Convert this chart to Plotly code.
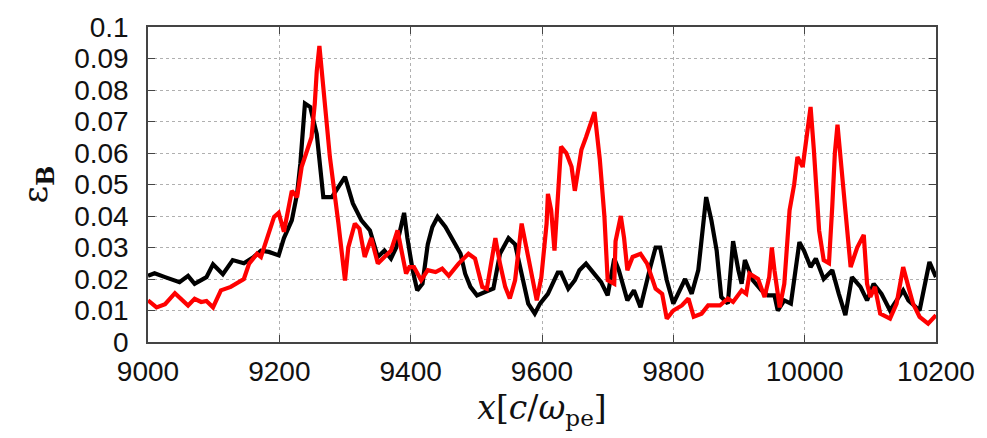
import plotly.graph_objects as go

black_x = [9000, 9010, 9026, 9048, 9061, 9071, 9089, 9099, 9114, 9129, 9146, 9161, 9172, 9184, 9199,
           9207, 9219, 9227, 9232, 9239, 9247, 9257, 9267, 9280, 9300, 9312, 9325, 9338, 9350, 9360,
           9370, 9378, 9390, 9395, 9403, 9410, 9418, 9426, 9433, 9441, 9453, 9466, 9476, 9483, 9491,
           9501, 9514, 9526, 9536, 9549, 9559, 9567, 9579, 9589, 9597, 9609, 9624, 9629, 9640, 9650,
           9657, 9667, 9677, 9690, 9700, 9710, 9717, 9730, 9740, 9750, 9765, 9773, 9780, 9790, 9800,
           9818, 9828, 9838, 9850, 9858, 9866, 9873, 9883, 9891, 9899, 9904, 9909, 9916, 9921, 9934,
           9944, 9954, 9959, 9969, 9979, 9992, 9999, 10009, 10017, 10029, 10042, 10052, 10062, 10072,
           10085, 10095, 10105, 10117, 10130, 10140, 10150, 10158, 10175, 10190, 10200]
black_y = [0.021, 0.0218, 0.0206, 0.019, 0.021, 0.0185, 0.0206, 0.0247, 0.0215, 0.026, 0.025, 0.027,
           0.029, 0.0286, 0.0275, 0.033, 0.0386, 0.047, 0.0566, 0.0757, 0.0746, 0.066, 0.046, 0.046,
           0.0524, 0.044, 0.0386, 0.0354, 0.027, 0.029, 0.0265, 0.030, 0.041, 0.033, 0.0228, 0.0164,
           0.0185, 0.031, 0.0365, 0.0397, 0.0365, 0.032, 0.028, 0.0217, 0.0175, 0.0148, 0.0159, 0.017,
           0.028, 0.033, 0.031, 0.0238, 0.0122, 0.009, 0.0122, 0.0153, 0.022, 0.022, 0.0169, 0.0196,
           0.0228, 0.0249, 0.0222, 0.019, 0.0148, 0.0265, 0.0228, 0.0132, 0.0164, 0.011, 0.0238, 0.030,
           0.030, 0.0196, 0.0122, 0.020, 0.0153, 0.0228, 0.046, 0.0386, 0.029, 0.0143, 0.0122, 0.032,
           0.0228, 0.0185, 0.026, 0.022, 0.0196, 0.0164, 0.0148, 0.0148, 0.010, 0.0132, 0.0122, 0.0317,
           0.029, 0.0238, 0.0265, 0.020, 0.0228, 0.0153, 0.0085, 0.0206, 0.0175, 0.0132, 0.0185, 0.0153,
           0.010, 0.0132, 0.0164, 0.0132, 0.010, 0.0254, 0.0206]

red_x = [9000, 9013, 9026, 9041, 9061, 9071, 9081, 9089, 9099, 9111, 9126, 9146, 9154, 9166, 9172,
         9177, 9192, 9199, 9207, 9219, 9227, 9234, 9242, 9249, 9254, 9257, 9261, 9265, 9270, 9277,
         9290, 9300, 9305, 9315, 9322, 9330, 9340, 9350, 9360, 9370, 9380, 9388, 9393, 9398, 9405,
         9416, 9426, 9438, 9448, 9458, 9473, 9488, 9498, 9509, 9516, 9529, 9536, 9544, 9551, 9559,
         9569, 9579, 9592, 9599, 9607, 9609, 9614, 9619, 9624, 9629, 9637, 9645, 9650, 9655, 9660,
         9667, 9680, 9688, 9695, 9700, 9710, 9712, 9720, 9725, 9730, 9738, 9750, 9760, 9773, 9783,
         9790, 9800, 9813, 9823, 9831, 9843, 9853, 9871, 9883, 9891, 9904, 9911, 9916, 9929, 9939,
         9946, 9950, 9954, 9962, 9969, 9977, 9984, 9989, 9997, 10004, 10009, 10014, 10022, 10029,
         10037, 10042, 10046, 10050, 10055, 10062, 10070, 10080, 10090, 10095, 10100, 10107, 10115,
         10130, 10140, 10150, 10158, 10165, 10175, 10188, 10200]
red_y = [0.0132, 0.011, 0.012, 0.0155, 0.0116, 0.0137, 0.0127, 0.013, 0.011, 0.0164, 0.0175, 0.020,
         0.0249, 0.028, 0.027, 0.030, 0.0397, 0.041, 0.035, 0.048, 0.046, 0.0556, 0.061, 0.065, 0.0757,
         0.086, 0.094, 0.085, 0.0757, 0.0587, 0.0376, 0.0195, 0.030, 0.0376, 0.036, 0.027, 0.033,
         0.0249, 0.027, 0.029, 0.0354, 0.027, 0.0217, 0.0238, 0.0238, 0.0196, 0.0228, 0.0222, 0.0233,
         0.021, 0.0249, 0.028, 0.0265, 0.0175, 0.0169, 0.033, 0.0249, 0.0175, 0.0138, 0.0196, 0.0376,
         0.027, 0.0132, 0.0206, 0.0376, 0.047, 0.0418, 0.029, 0.048, 0.062, 0.060, 0.0556, 0.048,
         0.0545, 0.061, 0.065, 0.073, 0.058, 0.040, 0.0196, 0.0185, 0.032, 0.040, 0.033, 0.0228, 0.027,
         0.028, 0.0249, 0.0169, 0.0153, 0.0074, 0.010, 0.0116, 0.0138, 0.008, 0.009, 0.0116, 0.0116,
         0.0138, 0.0127, 0.0164, 0.0153, 0.0217, 0.020, 0.0143, 0.0206, 0.030, 0.0228, 0.011, 0.0185,
         0.0418, 0.050, 0.0587, 0.0556, 0.066, 0.0746, 0.061, 0.0354, 0.026, 0.025, 0.043, 0.060,
         0.069, 0.0587, 0.0418, 0.0238, 0.030, 0.034, 0.0185, 0.0143, 0.0175, 0.009, 0.0074, 0.0122,
         0.0238, 0.0175, 0.0122, 0.008, 0.0058, 0.0085]

x_ticks = [9000, 9200, 9400, 9600, 9800, 10000, 10200]
y_ticks = [0, 0.01, 0.02, 0.03, 0.04, 0.05, 0.06, 0.07, 0.08, 0.09, 0.1]
y_labels = ["0", "0.01", "0.02", "0.03", "0.04", "0.05", "0.06", "0.07", "0.08", "0.09", "0.1"]

fig = go.Figure()
fig.add_trace(go.Scatter(x=black_x, y=black_y, mode="lines",
                         line=dict(color="#000000", width=4.2), showlegend=False))
fig.add_trace(go.Scatter(x=red_x, y=red_y, mode="lines",
                         line=dict(color="#ff0000", width=4.2), showlegend=False))

axis_common = dict(showline=True, linecolor="#444444", linewidth=1.5, mirror="ticks",
                   ticks="inside", ticklen=7, tickcolor="#444444",
                   showgrid=True, gridcolor="#b0b0b0", griddash="dot", gridwidth=1,
                   zeroline=False,
                   tickfont=dict(family="Liberation Sans, Arial", size=28, color="#111111"))

fig.update_xaxes(range=[9000, 10200], tickvals=x_ticks, ticktext=[str(v) for v in x_ticks],
                 ticklabelstandoff=4,
                 title=dict(text="<i>x</i>[<i>c</i>/<i>ω</i><sub>pe</sub>]",
                            font=dict(family="DejaVu Serif, Liberation Serif", size=33, color="#111111"),
                            standoff=10),
                 **axis_common)
fig.update_yaxes(range=[0, 0.1], tickvals=y_ticks, ticktext=y_labels, ticklabelstandoff=12,
                 title=dict(text="ε<sub><b>B</b></sub>",
                            font=dict(family="DejaVu Serif, Liberation Serif", size=34, color="#111111"),
                            standoff=16),
                 **axis_common)

fig.update_layout(width=987, height=438, margin=dict(l=148, r=44, t=27, b=96),
                  plot_bgcolor="white", paper_bgcolor="white")

fig.write_html("out.html")
